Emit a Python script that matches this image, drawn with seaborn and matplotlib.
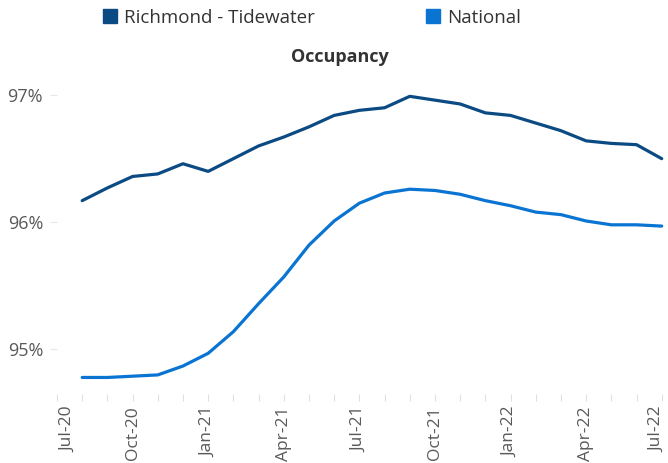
import matplotlib
matplotlib.use("Agg")
import matplotlib.pyplot as plt
import matplotlib.transforms as mtransforms
import seaborn as sns
import pandas as pd
from matplotlib.lines import Line2D
from matplotlib.ticker import MultipleLocator, FixedLocator

months = ["Aug-20", "Sep-20", "Oct-20", "Nov-20", "Dec-20", "Jan-21", "Feb-21", "Mar-21",
          "Apr-21", "May-21", "Jun-21", "Jul-21", "Aug-21", "Sep-21", "Oct-21", "Nov-21",
          "Dec-21", "Jan-22", "Feb-22", "Mar-22", "Apr-22", "May-22", "Jun-22", "Jul-22"]
richmond = [96.17, 96.27, 96.36, 96.38, 96.46, 96.40, 96.50, 96.60, 96.67, 96.75, 96.84, 96.88,
            96.90, 96.99, 96.96, 96.93, 96.86, 96.84, 96.78, 96.72, 96.64, 96.62, 96.61, 96.50]
national = [94.78, 94.78, 94.79, 94.80, 94.87, 94.97, 95.14, 95.36, 95.57, 95.82, 96.01, 96.15,
            96.23, 96.26, 96.25, 96.22, 96.17, 96.13, 96.08, 96.06, 96.01, 95.98, 95.98, 95.97]
tick_labels = ["Jul-20", "Oct-20", "Jan-21", "Apr-21", "Jul-21", "Oct-21", "Jan-22", "Apr-22", "Jul-22"]
series_names = ["Richmond - Tidewater", "National"]
colors = ["#0B4A82", "#0A74D2"]

idx = list(range(1, len(months) + 1))
df = pd.DataFrame({
    "idx": idx * 2,
    "value": richmond + national,
    "series": [series_names[0]] * len(idx) + [series_names[1]] * len(idx),
})

sns.set_style("white")
plt.rcParams["font.family"] = ["Open Sans", "DejaVu Sans"]

fig = plt.figure(figsize=(6.68, 4.63), dpi=100)
ax = fig.add_axes([57 / 668, (463 - 394) / 463, (668 - 57) / 668, (394 - 70) / 463])

sns.lineplot(data=df, x="idx", y="value", hue="series", palette=colors,
             linewidth=2.3, ax=ax, legend=False)

ax.set_xlim(0, 24.25)
ax.set_ylim(94.65, 97.197)
ax.set_xlabel("")
ax.set_ylabel("")

ax.xaxis.set_major_locator(FixedLocator(list(range(0, 25, 3))))
ax.set_xticklabels(tick_labels, rotation=90, fontsize=12.5, color="#595959")
ax.xaxis.set_minor_locator(MultipleLocator(1))
ax.set_yticks([95, 96, 97])
ax.set_yticklabels(["95%", "96%", "97%"], fontsize=13, color="#595959")

ax.tick_params(axis="x", which="both", length=5, width=0.8, color="#e0e0e0", bottom=True, pad=4)
ax.tick_params(axis="y", length=5, width=0.8, color="#e8e8e8", left=True, pad=5)

# edge labels sit slightly inside their ticks in the reference
labels = ax.get_xticklabels()
labels[0].set_transform(labels[0].get_transform() + mtransforms.ScaledTranslation(11 / 100, 0, fig.dpi_scale_trans))
labels[-1].set_transform(labels[-1].get_transform() + mtransforms.ScaledTranslation(-4 / 100, 0, fig.dpi_scale_trans))

for s in ax.spines.values():
    s.set_visible(False)

fig.text(340 / 668, 1 - 57 / 463, "Occupancy", ha="center", va="center",
         fontsize=13, fontweight="bold", color="#333333")

handles = [Line2D([0], [0], marker="s", linestyle="none", markersize=10.5,
                  markerfacecolor=c, markeredgecolor=c) for c in colors]
fig.legend(handles, series_names, loc="center", bbox_to_anchor=(0.465, 1 - 18 / 463),
           ncol=2, frameon=False, fontsize=13.5, handletextpad=0.25, columnspacing=5.8,
           labelcolor="#333333", handlelength=1.0)

fig.savefig("out.png", dpi=100, facecolor="white")
